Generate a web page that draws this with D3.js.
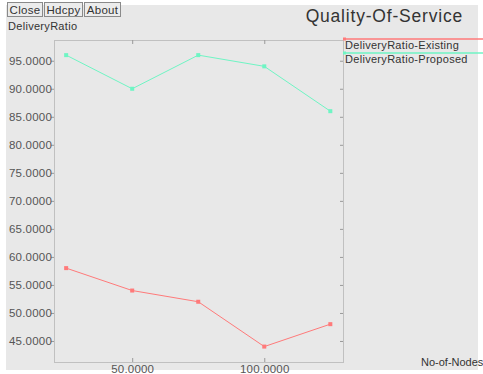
<!DOCTYPE html>
<html><head><meta charset="utf-8">
<script src="https://cdn.jsdelivr.net/npm/d3@7"></script>
<style>body{margin:0;background:#fff}svg{display:block}text{font-family:"Liberation Sans",Arial,sans-serif}</style>
</head><body>
<script>
const nodes = [25, 50, 75, 100, 125];
const existing = [58, 54, 52, 44, 48];
const proposed = [96, 90, 96, 94, 86];
const seriesNames = ["DeliveryRatio-Existing", "DeliveryRatio-Proposed"];
const seriesColors = ["#ff7a7a", "#6ff5c4"];
const yTicks = [45, 50, 55, 60, 65, 70, 75, 80, 85, 90, 95];
const xTicks = [50, 100];
const buttons = ["Close", "Hdcpy", "About"];

const W = 483, H = 374;
const FONT = "Liberation Sans";
const svg = d3.select("body").append("svg").attr("width", W).attr("height", H);
svg.append("rect").attr("x", 6).attr("y", 5).attr("width", 472).attr("height", 365).attr("fill", "#e8e8e8");

const L = 54, R = 343, T = 40, B = 362;
const x = d3.scaleLinear().domain([20.4, 129.8]).range([L, R]);
const y = d3.scaleLinear().domain([41.25, 98.7]).range([B, T]);

// buttons
let bx = 7;
const bw = [35, 38, 36];
buttons.forEach((b, i) => {
  svg.append("rect").attr("x", bx + 0.5).attr("y", 2.5).attr("width", bw[i]).attr("height", 14)
    .attr("fill", "#ececec").attr("stroke", "#8a8a8a");
  svg.append("text").attr("x", bx + bw[i] / 2 + 0.5).attr("y", 13.5).attr("text-anchor", "middle")
    .attr("font-size", 11.5).attr("letter-spacing", 0.3).attr("fill", "#333").text(b);
  bx += bw[i] + 2;
});
svg.append("text").attr("x", 8).attr("y", 30).attr("font-size", 11).attr("letter-spacing", 0.3).attr("fill", "#333").text("DeliveryRatio");
svg.append("text").attr("x", 463).attr("y", 22).attr("text-anchor", "end").attr("font-size", 17.5).attr("letter-spacing", 0.8).attr("fill", "#333").text("Quality-Of-Service");
svg.append("text").attr("x", 421).attr("y", 366).attr("font-size", 11).attr("fill", "#333").text("No-of-Nodes");

// frame
svg.append("rect").attr("x", L + 0.5).attr("y", T + 0.5).attr("width", R - L).attr("height", B - T)
  .attr("fill", "none").attr("stroke", "#999").attr("stroke-dasharray", "1,1");

const yAxis = d3.axisLeft(y).tickValues(yTicks).tickSize(3).tickFormat(d3.format(".4f"));
const gy = svg.append("g").attr("transform", `translate(${L},0)`).call(yAxis);
gy.select(".domain").remove();
gy.selectAll("line").attr("stroke", "#999");
gy.selectAll("text").attr("font-size", 11.5).attr("letter-spacing", 0.2).attr("fill", "#555").attr("font-family", FONT).attr("x", -2);

const gyr = svg.append("g").attr("transform", `translate(${R},0)`).call(d3.axisLeft(y).tickValues(yTicks).tickSize(3).tickFormat(""));
gyr.select(".domain").remove();
gyr.selectAll("line").attr("stroke", "#999");

const xAxis = d3.axisBottom(x).tickValues(xTicks).tickSize(-4).tickFormat(d3.format(".4f"));
const gx = svg.append("g").attr("transform", `translate(0,${B})`).call(xAxis);
gx.select(".domain").remove();
gx.selectAll("line").attr("stroke", "#999");
gx.selectAll("text").attr("font-size", 11.5).attr("letter-spacing", 0.2).attr("fill", "#555").attr("font-family", FONT).attr("dy", null).attr("y", 11);

const gxt = svg.append("g").attr("transform", `translate(0,${T})`).call(d3.axisBottom(x).tickValues(xTicks).tickSize(4).tickFormat(""));
gxt.select(".domain").remove();
gxt.selectAll("line").attr("stroke", "#999");

const data = [existing, proposed];
data.forEach((vals, si) => {
  const pts = nodes.map((n, i) => [n, vals[i]]);
  svg.append("path").datum(pts).attr("fill", "none").attr("stroke", seriesColors[si]).attr("stroke-width", 1)
    .attr("d", d3.line().x(d => x(d[0])).y(d => y(d[1])));
  svg.selectAll(null).data(pts).enter().append("rect")
    .attr("x", d => x(d[0]) - 2).attr("y", d => y(d[1]) - 2).attr("width", 4).attr("height", 4)
    .attr("fill", seriesColors[si]);
  const ly = 39 + si * 14;
  svg.append("line").attr("x1", R).attr("x2", W).attr("y1", ly).attr("y2", ly).attr("stroke", seriesColors[si]).attr("stroke-width", 1.5);
  svg.append("rect").attr("x", R).attr("y", ly - 1.5).attr("width", 3).attr("height", 3).attr("fill", seriesColors[si]);
  svg.append("text").attr("x", R + 2).attr("y", ly + 10).attr("font-size", 11).attr("letter-spacing", 0.3).attr("fill", "#333").text(seriesNames[si]);
});
</script>
</body></html>
